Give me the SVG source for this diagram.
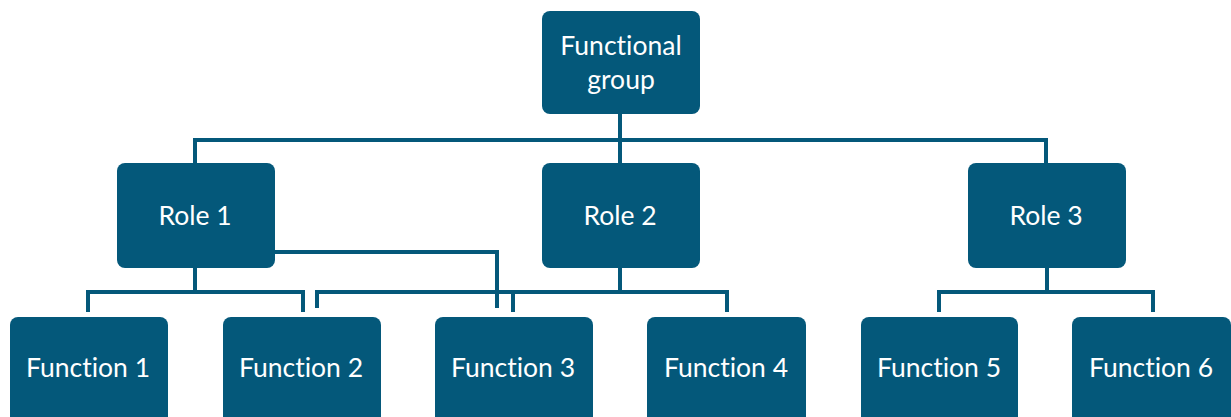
<svg xmlns="http://www.w3.org/2000/svg" width="1231" height="417" viewBox="0 0 1231 417">
  <style>
    .box { fill: #04587a; }
    .lbl { fill: #ffffff; font-family: Lato, "Open Sans", "Liberation Sans", sans-serif; font-size: 26.5px; text-anchor: middle; dominant-baseline: central; font-variant-ligatures: none; font-feature-settings: "liga" 0; }
    .wire { fill: none; stroke: #04587a; stroke-width: 4; stroke-linejoin: miter; stroke-linecap: butt; }
  </style>

  <!-- connectors -->
  <g id="connectors">
    <!-- group to roles -->
    <path class="wire" d="M620 114 V163 M195 163 V140 H1046 V163"/>
    <!-- role 1 to functions 1 and 2 -->
    <path class="wire" d="M195 268 V292 M88 312 V292 H303 V312"/>
    <!-- role 1 to function 3 -->
    <path class="wire" d="M275 252 H497 V308"/>
    <!-- role 2 to functions 2, 3, 4 -->
    <path class="wire" d="M620 268 V292 M317 308 V292 H727 V312 M513 292 V312"/>
    <!-- role 3 to functions 5 and 6 -->
    <path class="wire" d="M1047 268 V292 M939 312 V292 H1153 V312"/>
  </g>

  <g id="functional-group">
    <rect class="box" x="542" y="11" width="158" height="103" rx="8"/>
    <text class="lbl" x="621" y="45">Functional</text>
    <text class="lbl" x="621" y="79">group</text>
  </g>

  <g id="role-1">
    <rect class="box" x="117" y="163" width="158" height="105" rx="8"/>
    <text class="lbl" x="195" y="215">Role 1</text>
  </g>
  <g id="role-2">
    <rect class="box" x="542" y="163" width="158" height="105" rx="8"/>
    <text class="lbl" x="620" y="215">Role 2</text>
  </g>
  <g id="role-3">
    <rect class="box" x="968" y="163" width="158" height="105" rx="8"/>
    <text class="lbl" x="1046" y="215">Role 3</text>
  </g>

  <g id="function-1">
    <rect class="box" x="10" y="317" width="158" height="110" rx="8"/>
    <text class="lbl" x="88" y="367">Function 1</text>
  </g>
  <g id="function-2">
    <rect class="box" x="223" y="317" width="158" height="110" rx="8"/>
    <text class="lbl" x="301" y="367">Function 2</text>
  </g>
  <g id="function-3">
    <rect class="box" x="435" y="317" width="158" height="110" rx="8"/>
    <text class="lbl" x="513" y="367">Function 3</text>
  </g>
  <g id="function-4">
    <rect class="box" x="647" y="317" width="159" height="110" rx="8"/>
    <text class="lbl" x="726" y="367">Function 4</text>
  </g>
  <g id="function-5">
    <rect class="box" x="861" y="317" width="157" height="110" rx="8"/>
    <text class="lbl" x="939" y="367">Function 5</text>
  </g>
  <g id="function-6">
    <rect class="box" x="1072" y="317" width="159" height="110" rx="8"/>
    <text class="lbl" x="1151" y="367">Function 6</text>
  </g>
</svg>
